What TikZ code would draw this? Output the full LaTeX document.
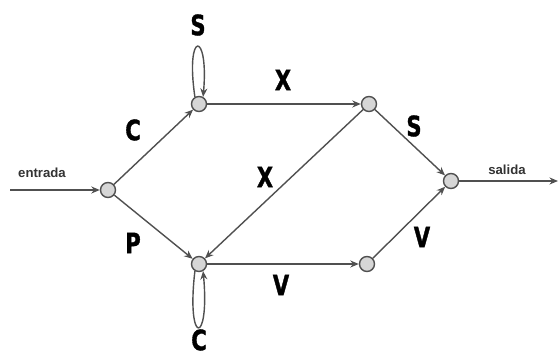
\documentclass[tikz,border=0pt]{standalone}
\usepackage{fontspec}
\setmainfont{Liberation Sans}
\newfontfamily\symfont{DejaVu Sans}[FakeStretch=0.75, BoldFeatures={FakeBold=1.2}]
\usetikzlibrary{
  positioning,
  arrows.meta
}
\definecolor{statecolor}{RGB}{214,214,214}
\definecolor{linecol}{RGB}{80,80,80}
\tikzset{
  state/.style={
    circle,
    draw=linecol,
    thick,
    fill=statecolor,
    minimum size=0.3cm,
    inner sep=0pt
  },
  arrow/.style={
    -{Stealth[length=1.7mm,width=1.4mm]},
    line width=0.8pt,
    color=linecol
  },
  symbol/.style={
    font=\symfont\bfseries\fontsize{16}{16}\selectfont,
    inner sep=0pt
  },
  iotext/.style={
    font=\bfseries\fontsize{7.5}{8}\selectfont,
    text=black!80,
    inner sep=0pt
  }
}

\begin{document}
\begin{tikzpicture}[x=0.02cm, y=-0.02cm]
  \useasboundingbox (0,0) rectangle (559,364);

  % States
  \node[state] (q0) at (108,190) {};
  \node[state] (q1) at (199,104) {};
  \node[state] (q2) at (199,264) {};
  \node[state] (q3) at (369,104) {};
  \node[state] (q4) at (451,181) {};
  \node[state] (q5) at (367,264) {};

  % Free ends
  \coordinate (in) at (10,190);
  \coordinate (out) at (558,181);

  % Transitions
  \draw[arrow] (in) -- (q0);
  \draw[arrow] (q0) -- (q1);
  \draw[arrow] (q0) -- (q2);
  \draw[arrow] (q1) -- (q3);
  \draw[arrow] (q3) -- (q2);
  \draw[arrow] (q3) -- (q4);
  \draw[arrow] (q2) -- (q5);
  \draw[arrow] (q5) -- (q4);
  \draw[arrow] (q4) -- (out);

  % Self loops
  \draw[arrow] (q1.120) .. controls (185,30) and (209,30) .. (q1.60);
  \draw[arrow] (q2.240) .. controls (186,346) and (210,346) .. (q2.300);

  % Symbols
  \node[symbol] (sTop) at (198,25) {S};
  \node[symbol] (cUp) at (133,130) {C};
  \node[symbol] (pLow) at (133,243) {P};
  \node[symbol] (xTop) at (283,80) {X};
  \node[symbol] (xMid) at (265,177) {X};
  \node[symbol] (sRight) at (414,126) {S};
  \node[symbol] (vLow) at (281,285) {V};
  \node[symbol] (vRight) at (422,237) {V};
  \node[symbol] (cBot) at (199,340) {C};

  % Input / output
  \node[iotext] (entrada) at (42,173) {entrada};
  \node[iotext] (salida) at (507,170) {salida};

\end{tikzpicture}
\end{document}
